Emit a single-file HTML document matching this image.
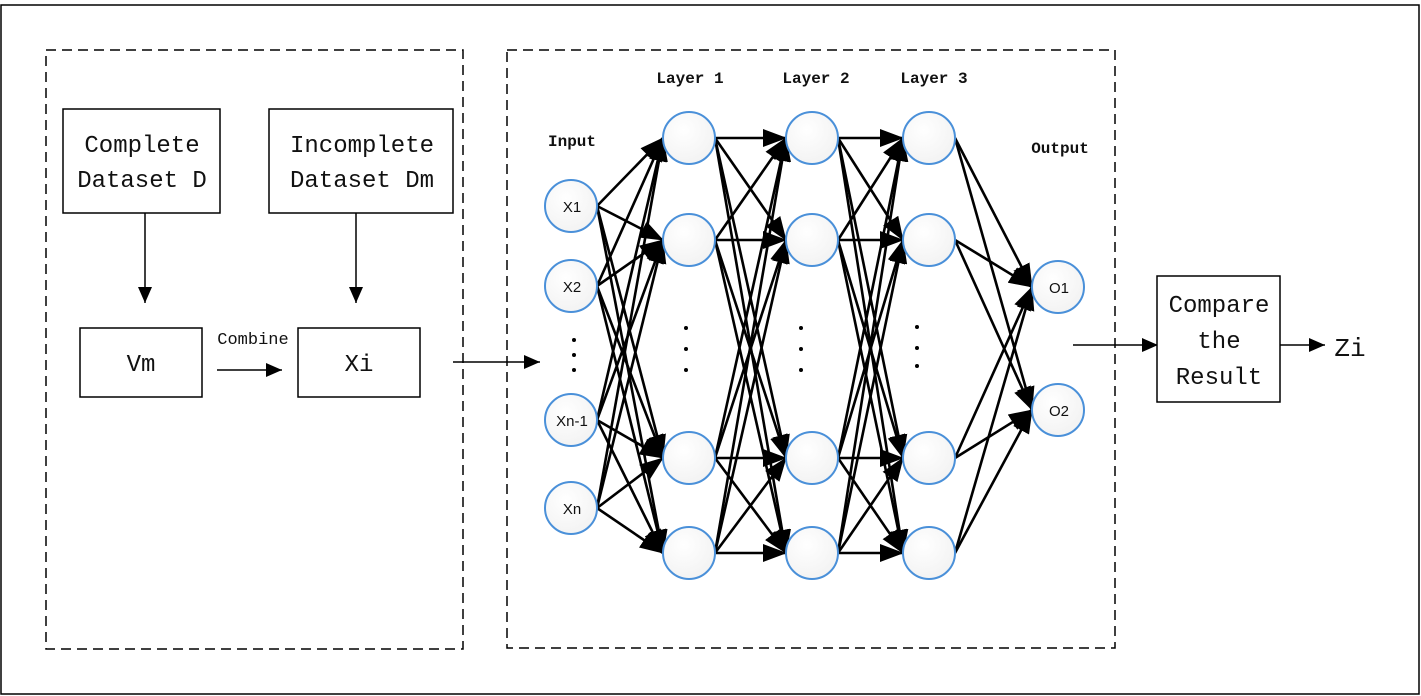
<!DOCTYPE html>
<html><head><meta charset="utf-8"><style>
html,body{margin:0;padding:0;background:#fff;width:1421px;height:696px;overflow:hidden}
svg{display:block}
.m{font-family:"Liberation Mono","Noto Serif CJK SC",monospace;fill:#111}
.s{font-family:"Liberation Sans","DejaVu Sans",sans-serif;fill:#111}
</style></head><body>
<svg id="g" width="1421" height="696" viewBox="0 0 1421 696" xmlns="http://www.w3.org/2000/svg">
<defs>
<marker id="b" markerWidth="24" markerHeight="18" refX="23" refY="9" orient="auto" markerUnits="userSpaceOnUse">
<path d="M0,0 L24,9 L0,18 z" fill="#000"/></marker>
<marker id="c" markerWidth="16" markerHeight="14" refX="16" refY="7" orient="auto" markerUnits="userSpaceOnUse">
<path d="M0,0 L16,7 L0,14 z" fill="#000"/></marker>
<radialGradient id="rg" cx="0.4" cy="0.35" r="0.7"><stop offset="0" stop-color="#fff"/><stop offset="1" stop-color="#f2f2f2"/></radialGradient>
</defs>
<rect x="1" y="5" width="1418" height="689" fill="none" stroke="#000" stroke-width="1.5"/>
<rect x="46" y="50" width="417" height="599" fill="none" stroke="#000" stroke-width="1.5" stroke-dasharray="10,6"/>
<rect x="507" y="50" width="608" height="598" fill="none" stroke="#000" stroke-width="1.5" stroke-dasharray="10,6"/>

<rect x="63" y="109" width="157" height="104" fill="#fff" stroke="#000" stroke-width="1.5"/>
<text class="m" x="142" y="152" font-size="24" text-anchor="middle">Complete</text>
<text class="m" x="142" y="187" font-size="24" text-anchor="middle">Dataset D</text>
<rect x="269" y="109" width="184" height="104" fill="#fff" stroke="#000" stroke-width="1.5"/>
<text class="m" x="362" y="152" font-size="24" text-anchor="middle">Incomplete</text>
<text class="m" x="362" y="187" font-size="24" text-anchor="middle">Dataset Dm</text>
<line x1="145" y1="213" x2="145" y2="303" stroke="#000" stroke-width="1.5" marker-end="url(#c)"/>
<line x1="356" y1="213" x2="356" y2="303" stroke="#000" stroke-width="1.5" marker-end="url(#c)"/>
<rect x="80" y="328" width="122" height="69" fill="#fff" stroke="#000" stroke-width="1.5"/>
<text class="m" x="141" y="371" font-size="24" text-anchor="middle">Vm</text>
<rect x="298" y="328" width="122" height="69" fill="#fff" stroke="#000" stroke-width="1.5"/>
<text class="m" x="359" y="371" font-size="24" text-anchor="middle">Xi</text>
<text class="m" x="253" y="344" font-size="17" text-anchor="middle">Combine</text>
<line x1="217" y1="370" x2="282" y2="370" stroke="#000" stroke-width="1.5" marker-end="url(#c)"/>
<line x1="453" y1="362" x2="540" y2="362" stroke="#000" stroke-width="1.5" marker-end="url(#c)"/>

<text class="m" x="690" y="83" font-size="16" font-weight="bold" text-anchor="middle">Layer 1</text>
<text class="m" x="816" y="83" font-size="16" font-weight="bold" text-anchor="middle">Layer 2</text>
<text class="m" x="934" y="83" font-size="16" font-weight="bold" text-anchor="middle">Layer 3</text>
<text class="m" x="572" y="146" font-size="16" font-weight="bold" text-anchor="middle">Input</text>
<text class="m" x="1060" y="153" font-size="16" font-weight="bold" text-anchor="middle">Output</text>
<g id="edges"></g>
<g id="nodes"></g>

<line x1="1073" y1="345" x2="1158" y2="345" stroke="#000" stroke-width="1.5" marker-end="url(#c)"/>
<rect x="1157" y="276" width="123" height="126" fill="#fff" stroke="#000" stroke-width="1.5"/>
<text class="m" x="1219" y="312" font-size="24" text-anchor="middle">Compare</text>
<text class="m" x="1219" y="348" font-size="24" text-anchor="middle">the</text>
<text class="m" x="1219" y="384" font-size="24" text-anchor="middle">Result</text>
<line x1="1280" y1="345" x2="1325" y2="345" stroke="#000" stroke-width="1.5" marker-end="url(#c)"/>
<text class="m" x="1350" y="356" font-size="26" text-anchor="middle">Zi</text>
</svg>
<script>
var NS="http://www.w3.org/2000/svg";
var ys=[138,240,458,553];
var L=[
 {x:571,y:[206,286,420,508],t:["X1","X2","Xn-1","Xn"]},
 {x:689,y:ys},{x:812,y:ys},{x:929,y:ys},
 {x:1058,y:[287,410],t:["O1","O2"]}];
var r=26,E=document.getElementById("edges"),N=document.getElementById("nodes");
function el(n,a,p){var e=document.createElementNS(NS,n);for(var k in a)e.setAttribute(k,a[k]);p.appendChild(e);return e;}
for(var i=0;i<4;i++){var A=L[i],B=L[i+1];
 A.y.forEach(function(y1){B.y.forEach(function(y2){
  el("line",{x1:A.x+r,y1:y1,x2:B.x-r,y2:y2,stroke:"#000","stroke-width":2.6,"marker-end":"url(#b)"},E);});});}
L.forEach(function(Lr){Lr.y.forEach(function(y,j){
 el("circle",{cx:Lr.x,cy:y,r:r,fill:"url(#rg)",stroke:"#4a90d9","stroke-width":2},N);
 if(Lr.t){var t=el("text",{x:Lr.x+1,y:y+6,"font-size":15,"text-anchor":"middle","class":"s"},N);t.textContent=Lr.t[j];}
});});
[[574,[340,355,370]],[686,[328,349,370]],[801,[328,349,370]],[917,[327,348,366]]].forEach(function(c){
 c[1].forEach(function(y){el("circle",{cx:c[0],cy:y,r:2,fill:"#000"},N);});});
</script>
</body></html>
